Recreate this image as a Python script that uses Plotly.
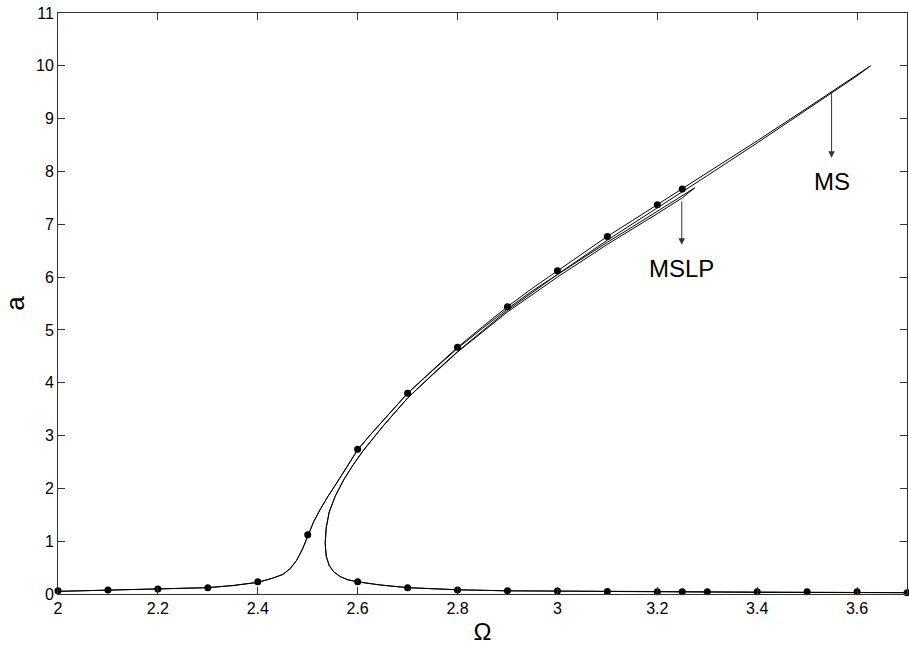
import plotly.graph_objects as go

# ---- data ----
# MS curve: stable branch up, unstable branch back down, then lower branch
omega_ms = [2.0, 2.1, 2.2, 2.3, 2.35, 2.4, 2.43, 2.45, 2.465, 2.478, 2.49, 2.5, 2.512, 2.525,
            2.54, 2.558, 2.58, 2.6, 2.625, 2.65, 2.675, 2.7, 2.75, 2.8, 2.85, 2.9, 2.95, 3.0, 3.05, 3.1,
            3.15, 3.2, 3.25, 3.3, 3.4, 3.5, 3.55, 3.6, 3.627,
            3.6, 3.5, 3.4, 3.3, 3.2, 3.1, 3.0, 2.9, 2.8, 2.75, 2.7, 2.65, 2.61, 2.59, 2.572,
            2.555, 2.543, 2.537, 2.535, 2.537, 2.543, 2.552, 2.565, 2.58, 2.6, 2.646, 2.7, 2.8,
            2.9, 3.0, 3.1, 3.2, 3.3, 3.4, 3.5, 3.6, 3.7]
a_ms = [0.05, 0.07, 0.09, 0.12, 0.16, 0.22, 0.3, 0.37, 0.48, 0.64, 0.86, 1.11, 1.37, 1.6,
        1.84, 2.1, 2.42, 2.73, 3.01, 3.28, 3.55, 3.8, 4.24, 4.67, 5.06, 5.44, 5.79, 6.12, 6.45, 6.77,
        7.07, 7.37, 7.67, 7.97, 8.58, 9.2, 9.51, 9.83, 10.0,
        9.81, 9.17, 8.54, 7.92, 7.31, 6.7, 6.05, 5.37, 4.59, 4.16, 3.71, 3.17, 2.7, 2.43, 2.16,
        1.85, 1.55, 1.25, 0.96, 0.72, 0.54, 0.42, 0.33, 0.27, 0.23, 0.17, 0.12, 0.08,
        0.06, 0.055, 0.045, 0.04, 0.035, 0.03, 0.03, 0.025, 0.025]

# MSLP curve: coincides with MS below ~2.8, ends lower near 3.275
omega_mslp = [2.0, 2.1, 2.2, 2.3, 2.35, 2.4, 2.43, 2.45, 2.465, 2.478, 2.49, 2.5, 2.512, 2.525,
              2.54, 2.558, 2.58, 2.6, 2.625, 2.65, 2.675, 2.7, 2.75, 2.8, 2.85, 2.9, 2.95, 3.0, 3.05, 3.1,
              3.15, 3.2, 3.25, 3.275,
              3.25, 3.2, 3.1, 3.0, 2.9, 2.8, 2.75, 2.7, 2.65, 2.61, 2.59, 2.572,
              2.555, 2.543, 2.537, 2.535, 2.537, 2.543, 2.552, 2.565, 2.58, 2.6, 2.646, 2.7, 2.8,
              2.9, 3.0, 3.1, 3.2, 3.3, 3.4, 3.5, 3.6, 3.7]
a_mslp = [0.05, 0.07, 0.09, 0.12, 0.16, 0.22, 0.3, 0.37, 0.48, 0.64, 0.86, 1.11, 1.37, 1.6,
          1.84, 2.1, 2.42, 2.73, 3.01, 3.28, 3.55, 3.8, 4.23, 4.65, 5.03, 5.4, 5.74, 6.05, 6.36, 6.66,
          6.95, 7.24, 7.53, 7.69,
          7.5, 7.2, 6.62, 6.0, 5.34, 4.58, 4.15, 3.71, 3.17, 2.7, 2.43, 2.16,
          1.85, 1.55, 1.25, 0.96, 0.72, 0.54, 0.42, 0.33, 0.27, 0.23, 0.17, 0.12, 0.08,
          0.06, 0.055, 0.045, 0.04, 0.035, 0.03, 0.03, 0.025, 0.025]

# Numerical solution points (dots)
omega_pts = [2.0, 2.1, 2.2, 2.3, 2.4, 2.5, 2.6, 2.7, 2.8, 2.9, 3.0, 3.1, 3.2, 3.25,
             2.6, 2.7, 2.8, 2.9, 3.0, 3.1, 3.2, 3.25, 3.3, 3.4, 3.5, 3.6, 3.7]
a_pts = [0.06, 0.076, 0.095, 0.12, 0.23, 1.12, 2.74, 3.8, 4.67, 5.44, 6.12, 6.77, 7.37, 7.67,
         0.23, 0.12, 0.076, 0.06, 0.057, 0.045, 0.044, 0.044, 0.044, 0.044, 0.044, 0.044, 0.025]

labels = ["MS", "MSLP"]
label_x = [3.549, 3.249]
label_y = [7.81, 6.17]
arrow_tail_y = [9.55, 7.46]
arrow_head_y = [8.26, 6.61]

FONT = "Liberation Sans, Arial, sans-serif"
AXC = "#333333"

fig = go.Figure()
fig.add_trace(go.Scatter(x=omega_ms, y=a_ms, mode="lines", name="MS",
                         line=dict(color="black", width=1), showlegend=False))
fig.add_trace(go.Scatter(x=omega_mslp, y=a_mslp, mode="lines", name="MSLP",
                         line=dict(color="black", width=1), showlegend=False))
fig.add_trace(go.Scatter(x=omega_pts, y=a_pts, mode="markers", name="numerical",
                         marker=dict(color="black", size=7), cliponaxis=False,
                         showlegend=False))

for lab, lx, ly, ty, hy in zip(labels, label_x, label_y, arrow_tail_y, arrow_head_y):
    fig.add_annotation(x=lx, y=hy, ax=lx, ay=ty, xref="x", yref="y", axref="x", ayref="y",
                       text="", showarrow=True, arrowhead=2, arrowsize=1.3, arrowwidth=1,
                       arrowcolor="#333333")
    fig.add_annotation(x=lx, y=ly, xref="x", yref="y", text=lab, showarrow=False,
                       font=dict(family=FONT, size=24, color="black"))

axis_common = dict(showgrid=False, zeroline=False, showline=True, linecolor=AXC, linewidth=1,
                   mirror="ticks", ticks="inside", ticklen=7, tickcolor=AXC, tickwidth=1,
                   ticklabeloverflow="allow",
                   tickfont=dict(family=FONT, size=16, color="black"))

fig.update_xaxes(range=[2, 3.7], tick0=2, dtick=0.2,
                 title=dict(text="Ω", font=dict(family=FONT, size=24, color="black"), standoff=6),
                 **axis_common)
fig.update_yaxes(range=[0, 11], tick0=0, dtick=1,
                 title=dict(text="a", font=dict(family=FONT, size=26, color="black"), standoff=12),
                 **axis_common)

fig.update_layout(width=909, height=645, margin=dict(l=58, r=2, t=13, b=51, autoexpand=False),
                  plot_bgcolor="white", paper_bgcolor="white",
                  font=dict(family=FONT, color="black"))

# remove the default page margin so the 909x645 figure fills the window exactly
fig.write_html("out.html", config={"displayModeBar": False},
               post_script="document.body.style.margin='0';document.body.style.overflow='hidden';")
